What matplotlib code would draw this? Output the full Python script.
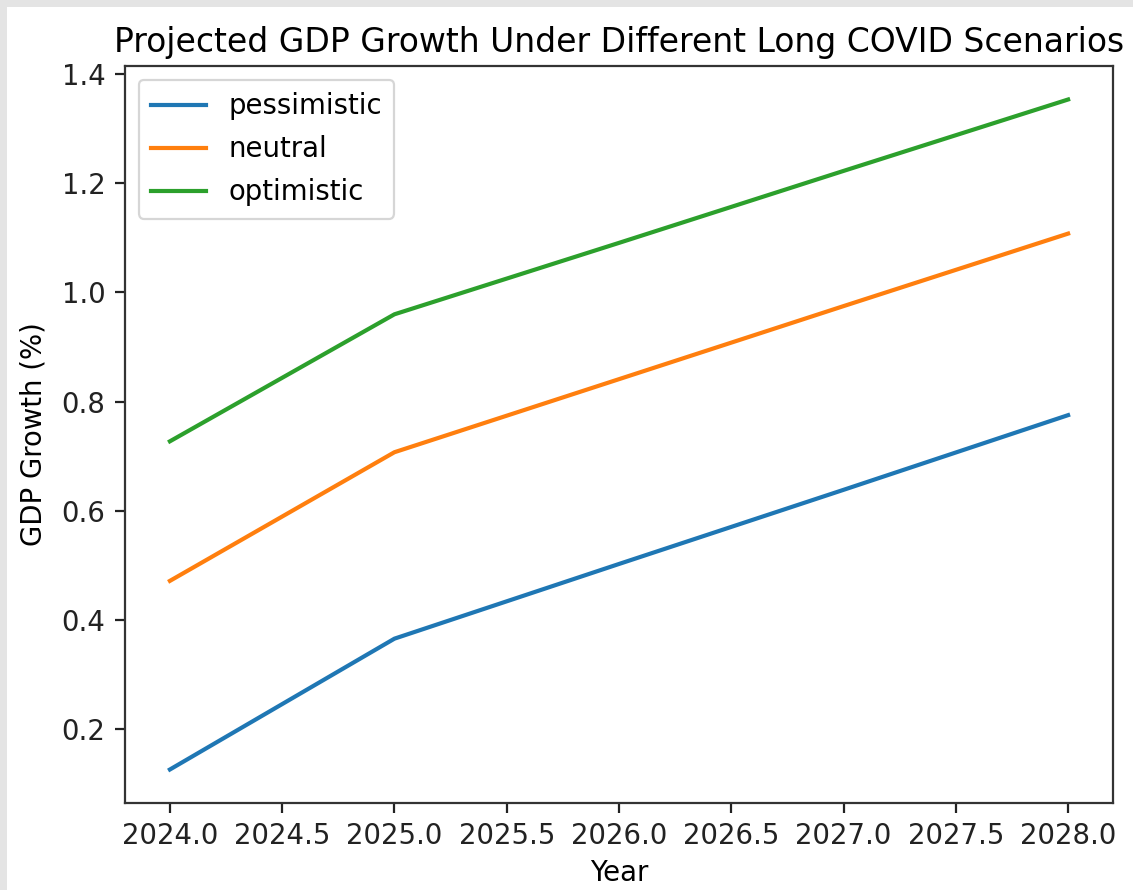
import numpy as np
import matplotlib
matplotlib.use("Agg")
import matplotlib.pyplot as plt
from matplotlib.patches import Rectangle

years = [2024, 2025, 2026, 2027, 2028]
pessimistic = [0.125, 0.365, 0.502, 0.638, 0.775]
neutral = [0.471, 0.707, 0.841, 0.975, 1.108]
optimistic = [0.727, 0.960, 1.091, 1.223, 1.354]

W, H = 1133, 890
fs = 19.8
plt.rcParams['font.size'] = fs

fig = plt.figure(figsize=(W / 100, H / 100), dpi=100, facecolor='#e4e4e4')
# white screenshot area inside the grey frame
bg = Rectangle((7 / W, 0), 1 - 7 / W, 1 - 7 / H, transform=fig.transFigure,
               facecolor='white', edgecolor='none', zorder=-10)
fig.add_artist(bg)

ax = fig.add_axes([125 / W, (H - 803) / H, 988 / W, 737 / H])
ax.set_zorder(1)
lw = 3.0
ax.plot(years, pessimistic, label='pessimistic', c='#1f77b4', lw=lw)
ax.plot(years, neutral, label='neutral', c='#ff7f0e', lw=lw)
ax.plot(years, optimistic, label='optimistic', c='#2ca02c', lw=lw)

ax.set_xticks(np.arange(2024, 2028.1, 0.5))
ax.set_xticklabels([f"{v:.1f}" for v in np.arange(2024, 2028.1, 0.5)])
ax.set_yticks([0.2, 0.4, 0.6, 0.8, 1.0, 1.2, 1.4])
ax.set_yticklabels(['0.2', '0.4', '0.6', '0.8', '1.0', '1.2', '1.4'])
ax.tick_params(length=7, width=1.6, pad=7, labelsize=fs, colors='#222222')
for s in ax.spines.values():
    s.set_linewidth(1.6)
    s.set_color('#333333')

ax.set_title('Projected GDP Growth Under Different Long COVID Scenarios', fontsize=fs * 1.2, pad=10)
ax.set_xlabel('Year', fontsize=fs, labelpad=6)
ax.set_ylabel('GDP Growth (%)', fontsize=fs, labelpad=10)
leg = ax.legend(loc='upper left', fontsize=fs, handlelength=2.0, borderpad=0.45,
                labelspacing=0.55, borderaxespad=0.5)
leg.get_frame().set_linewidth(1.6)

fig.savefig('out.png', dpi=100, facecolor=fig.get_facecolor())
